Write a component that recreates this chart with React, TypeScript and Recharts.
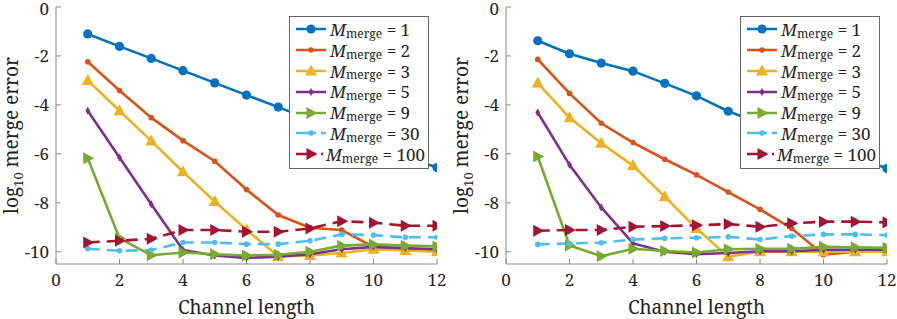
import React from 'react';
import { LineChart, Line, XAxis, YAxis, Legend, Label } from 'recharts';

// channel length on the x axis
const CHANNEL = [1, 2, 3, 4, 5, 6, 7, 8, 9, 10, 11, 12];
const X_TICKS = [0, 2, 4, 6, 8, 10, 12];
const Y_TICKS = [-10, -8, -6, -4, -2, 0];
const M_MERGE = [1, 2, 3, 5, 9, 30, 100];

// left panel, log10 merge error
const LEFT_M1 = [-1.1, -1.61, -2.1, -2.6, -3.1, -3.6, -4.09, -4.6, -5.1, -5.6, -6.1, -6.56];
const LEFT_M2 = [-2.24, -3.41, -4.52, -5.46, -6.3, -7.46, -8.5, -9.02, -9.11, -9.8, -9.9, -9.95];
const LEFT_M3 = [-3.0, -4.24, -5.47, -6.73, -7.95, -9.1, -10.19, -10.15, -10.05, -9.9, -9.95, -10.0];
const LEFT_M5 = [-4.24, -6.15, -8.06, -9.93, -10.15, -10.25, -10.2, -10.1, -9.9, -9.8, -9.85, -9.9];
const LEFT_M9 = [-6.18, -9.45, -10.14, -10.03, -10.1, -10.15, -10.12, -10.0, -9.75, -9.7, -9.75, -9.78];
const LEFT_M30 = [-9.88, -9.96, -9.93, -9.62, -9.62, -9.69, -9.69, -9.55, -9.29, -9.32, -9.41, -9.41];
const LEFT_M100 = [-9.62, -9.55, -9.47, -9.11, -9.11, -9.18, -9.18, -9.05, -8.75, -8.81, -8.94, -8.94];

// right panel
const RIGHT_M1 = [-1.38, -1.91, -2.29, -2.62, -3.12, -3.63, -4.26, -4.75, -5.2, -5.65, -6.1, -6.6];
const RIGHT_M2 = [-2.14, -3.53, -4.75, -5.54, -6.22, -6.86, -7.56, -8.27, -9.05, -10.12, -10.0, -9.95];
const RIGHT_M3 = [-3.11, -4.52, -5.57, -6.48, -7.75, -9.05, -10.2, -10.0, -10.0, -10.0, -10.0, -10.0];
const RIGHT_M5 = [-4.31, -6.45, -8.19, -9.66, -10.0, -10.1, -10.05, -9.98, -9.98, -9.92, -9.92, -9.92];
const RIGHT_M9 = [-6.11, -9.74, -10.18, -9.88, -9.97, -10.03, -9.9, -9.88, -9.88, -9.8, -9.82, -9.84];
const RIGHT_M30 = [-9.7, -9.66, -9.63, -9.5, -9.45, -9.43, -9.39, -9.5, -9.36, -9.29, -9.29, -9.32];
const RIGHT_M100 = [-9.14, -9.11, -9.11, -8.98, -8.95, -8.92, -8.87, -8.98, -8.84, -8.77, -8.77, -8.8];

const SERIES_STYLE = [
  { color: '#0072BD', marker: 'circle', dashed: false },
  { color: '#D95319', marker: 'dot', dashed: false },
  { color: '#EDB120', marker: 'up', dashed: false },
  { color: '#7E2F8E', marker: 'plus', dashed: false },
  { color: '#77AC30', marker: 'right', dashed: false },
  { color: '#4DBEEE', marker: 'star', dashed: true },
  { color: '#A2142F', marker: 'right', dashed: true },
];

const FONT = 'Noto Serif';
const AXIS_COLOR = '#8a8a8a';
const TEXT_COLOR = '#222';

const drawMarker = (shape: string, color: string, cx: number, cy: number, key?: any) => {
  switch (shape) {
    case 'circle':
      return <circle key={key} cx={cx} cy={cy} r={4.6} fill={color} />;
    case 'dot':
      return <circle key={key} cx={cx} cy={cy} r={2.8} fill={color} />;
    case 'up':
      return <polygon key={key} points={`${cx},${cy - 6.5} ${cx - 6},${cy + 4.5} ${cx + 6},${cy + 4.5}`} fill={color} />;
    case 'right':
      return <polygon key={key} points={`${cx + 6.5},${cy} ${cx - 4.5},${cy - 6} ${cx - 4.5},${cy + 6}`} fill={color} />;
    case 'plus':
      return (
        <g key={key}>
          <circle cx={cx} cy={cy} r={2.2} fill={color} />
          <line x1={cx} y1={cy - 3.5} x2={cx} y2={cy + 3.5} stroke={color} strokeWidth={1.5} />
        </g>
      );
    default:
      return <circle key={key} cx={cx} cy={cy} r={2.8} fill={color} />;
  }
};

const markerDot = (shape: string, color: string) => (props: any) => {
  const { cx, cy, index } = props;
  if (cx == null || cy == null) return <g key={index} />;
  return drawMarker(shape, color, cx, cy, index);
};

const XTick = (props: any) => {
  const { x, y, payload } = props;
  return (
    <text x={x} y={y} dy="0.71em" textAnchor="middle" fill={TEXT_COLOR} style={{ fontFamily: FONT, fontSize: 17 }}>
      {payload.value}
    </text>
  );
};

const YTick = (props: any) => {
  const { x, y, payload } = props;
  return (
    <text x={x} y={y} dy="0.36em" textAnchor="end" fill={TEXT_COLOR} style={{ fontFamily: FONT, fontSize: 17 }}>
      {payload.value}
    </text>
  );
};

const LegendBox = () => (
  <div
    style={{
      border: '1px solid #666',
      background: '#fff',
      padding: '2px 3px 3px 5px',
      fontFamily: FONT,
      color: TEXT_COLOR,
      width: 130,
    }}
  >
    {M_MERGE.map((m, i) => {
      const s = SERIES_STYLE[i];
      return (
        <div key={m} style={{ display: 'flex', alignItems: 'center', height: 20.8, whiteSpace: 'nowrap', fontFamily: FONT }}>
          <svg width={32} height={16} style={{ marginRight: 3 }}>
            <line
              x1={1}
              y1={8}
              x2={31}
              y2={8}
              stroke={s.color}
              strokeWidth={2.5}
              strokeDasharray={s.dashed ? '20 5 6 2' : undefined}
            />
            {drawMarker(s.marker, s.color, 16, 8)}
          </svg>
          <span style={{ fontSize: 17, fontStyle: 'italic', fontFamily: FONT }}>M</span>
          <span style={{ fontSize: 12, position: 'relative', top: 4, fontFamily: FONT }}>merge</span>
          <span style={{ fontSize: 17, fontFamily: FONT }}>&nbsp;= {m}</span>
        </div>
      );
    })}
  </div>
);

const YLabel = (props: any) => {
  const { labelX, viewBox } = props;
  const cy = viewBox.y + viewBox.height / 2;
  return (
    <text
      x={labelX}
      y={cy}
      transform={`rotate(-90, ${labelX}, ${cy})`}
      textAnchor="middle"
      fill={TEXT_COLOR}
      style={{ fontFamily: FONT, fontSize: 19 }}
    >
      <tspan>log</tspan>
      <tspan fontSize={13} dy={5}>10</tspan>
      <tspan dy={-5}> merge error</tspan>
    </text>
  );
};

interface PanelProps {
  series: number[][];
  width: number;
  yAxisWidth: number;
  rightMargin: number;
  legendLeft: number;
  labelX: number;
}

const Panel: React.FC<PanelProps> = ({ series, width, yAxisWidth, rightMargin, legendLeft, labelX }) => {
  const data = CHANNEL.map((x, i) => {
    const row: any = { x };
    series.forEach((vals, k) => {
      row['m' + M_MERGE[k]] = vals[i];
    });
    return row;
  });

  return (
    <LineChart width={width} height={319} data={data} margin={{ top: 7, right: rightMargin, bottom: 0, left: 0 }}>
      <XAxis
        xAxisId="bottom"
        type="number"
        dataKey="x"
        domain={[0, 12]}
        ticks={X_TICKS}
        height={55}
        tickSize={-5}
        tickMargin={15}
        stroke={AXIS_COLOR}
        tick={<XTick />}
        allowDataOverflow
      >
        <Label
          value="Channel length"
          position="insideBottom"
          offset={5}
          style={{ fontFamily: FONT, fontSize: 19, fill: TEXT_COLOR }}
        />
      </XAxis>
      <XAxis
        xAxisId="top"
        orientation="top"
        type="number"
        dataKey="x"
        domain={[0, 12]}
        ticks={X_TICKS}
        height={0}
        tickSize={-5}
        tick={false}
        stroke={AXIS_COLOR}
      />
      <YAxis
        yAxisId="left"
        type="number"
        domain={[-10.5, 0]}
        ticks={Y_TICKS}
        width={yAxisWidth}
        tickSize={-5}
        tickMargin={12}
        stroke={AXIS_COLOR}
        tick={<YTick />}
        allowDataOverflow
      >
        <Label content={<YLabel labelX={labelX} />} />
      </YAxis>
      <YAxis
        yAxisId="right"
        orientation="right"
        type="number"
        domain={[-10.5, 0]}
        ticks={Y_TICKS}
        width={0}
        tickSize={-5}
        tick={false}
        stroke={AXIS_COLOR}
      />
      <Legend
        layout="vertical"
        align="center"
        verticalAlign="middle"
        content={() => <LegendBox />}
        wrapperStyle={{ left: legendLeft, top: 16, width: 'auto' }}
      />
      {M_MERGE.map((m, k) => {
        const s = SERIES_STYLE[k];
        return (
          <Line
            key={m}
            xAxisId="bottom"
            yAxisId="left"
            dataKey={'m' + m}
            stroke={s.color}
            strokeWidth={2.6}
            strokeDasharray={s.dashed ? '12 7' : undefined}
            dot={markerDot(s.marker, s.color)}
            activeDot={false}
            isAnimationActive={false}
            type="linear"
          />
        );
      })}
    </LineChart>
  );
};

export default function App() {
  return (
    <div style={{ position: 'absolute', left: 0, top: 0, width: 897, height: 319, background: '#fff' }}>
      <div style={{ position: 'absolute', left: 0, top: 0 }}>
        <Panel
          series={[LEFT_M1, LEFT_M2, LEFT_M3, LEFT_M5, LEFT_M9, LEFT_M30, LEFT_M100]}
          width={448}
          yAxisWidth={56}
          rightMargin={11}
          legendLeft={289}
          labelX={18}
        />
      </div>
      <div style={{ position: 'absolute', left: 447, top: 0 }}>
        <Panel
          series={[RIGHT_M1, RIGHT_M2, RIGHT_M3, RIGHT_M5, RIGHT_M9, RIGHT_M30, RIGHT_M100]}
          width={450}
          yAxisWidth={59}
          rightMargin={10}
          legendLeft={293}
          labelX={21}
        />
      </div>
    </div>
  );
}
